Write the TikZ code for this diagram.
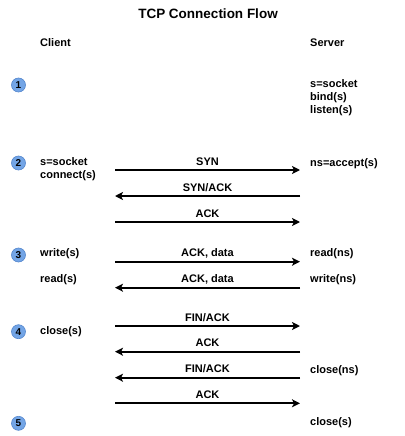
\documentclass[tikz,border=0pt]{standalone}
\usepackage{fontspec}
\setmainfont{Liberation Sans}
\usetikzlibrary{arrows.meta}
\definecolor{stepblue}{RGB}{115,165,230}
\definecolor{stepedge}{RGB}{85,135,205}

\begin{document}
\begin{tikzpicture}[
    x=1pt, y=-1pt,
    txt/.style={anchor=base west, inner sep=0pt, font=\fontsize{11}{13}\selectfont\bfseries},
    stepnum/.style={circle, fill=stepblue, draw=stepedge, line width=0.6pt, minimum size=14pt, inner sep=0pt, font=\fontsize{10}{12}\selectfont\bfseries},
    msg/.style={line width=2pt, -{Stealth[length=8pt, width=8pt, inset=2pt]}},
    msglabel/.style={midway, anchor=base, yshift=5pt, inner sep=0pt, font=\fontsize{11}{13}\selectfont\bfseries}
]

\useasboundingbox (0,0) rectangle (404,436);

\node[anchor=base, inner sep=0pt, font=\fontsize{13.5}{15}\selectfont\bfseries] (title) at (208,18.5) {TCP Connection Flow};

\node[txt] (client) at (40,46.7) {Client};
\node[txt] (server) at (310,46.7) {Server};

% steps
\foreach \n/\y in {1/85, 2/163, 3/255, 4/331.7, 5/423.3}
    \node[stepnum] (N-\n) at (18.5,\y) {\n};

% client side
\node[txt] (cl-socket) at (40,165.3) {s=socket};
\node[txt] (cl-connect) at (40,178.3) {connect(s)};
\node[txt] (cl-write) at (40,256.7) {write(s)};
\node[txt] (cl-read) at (40,282.3) {read(s)};
\node[txt] (cl-close) at (40,334) {close(s)};

% server side
\node[txt] (sv-socket) at (310,87.3) {s=socket};
\node[txt] (sv-bind) at (310,100.3) {bind(s)};
\node[txt] (sv-listen) at (310,113.3) {listen(s)};
\node[txt] (sv-accept) at (310,166) {ns=accept(s)};
\node[txt] (sv-read) at (310,256.7) {read(ns)};
\node[txt] (sv-write) at (310,282.3) {write(ns)};
\node[txt] (sv-closens) at (310,373) {close(ns)};
\node[txt] (sv-close) at (310,425.7) {close(s)};

% message ends
\foreach \i/\y in {1/170, 2/196, 3/222, 4/261.7, 5/287.7, 6/326, 7/351.7, 8/377.7, 9/403.3} {
    \coordinate (C-\i) at (115,\y);
    \coordinate (S-\i) at (300,\y);
}

% messages
\draw[msg] (C-1) -- node[msglabel] {SYN} (S-1);
\draw[msg] (S-2) -- node[msglabel] {SYN/ACK} (C-2);
\draw[msg] (C-3) -- node[msglabel] {ACK} (S-3);
\draw[msg] (C-4) -- node[msglabel] {ACK, data} (S-4);
\draw[msg] (S-5) -- node[msglabel] {ACK, data} (C-5);
\draw[msg] (C-6) -- node[msglabel] {FIN/ACK} (S-6);
\draw[msg] (S-7) -- node[msglabel] {ACK} (C-7);
\draw[msg] (S-8) -- node[msglabel] {FIN/ACK} (C-8);
\draw[msg] (C-9) -- node[msglabel] {ACK} (S-9);

\end{tikzpicture}
\end{document}
